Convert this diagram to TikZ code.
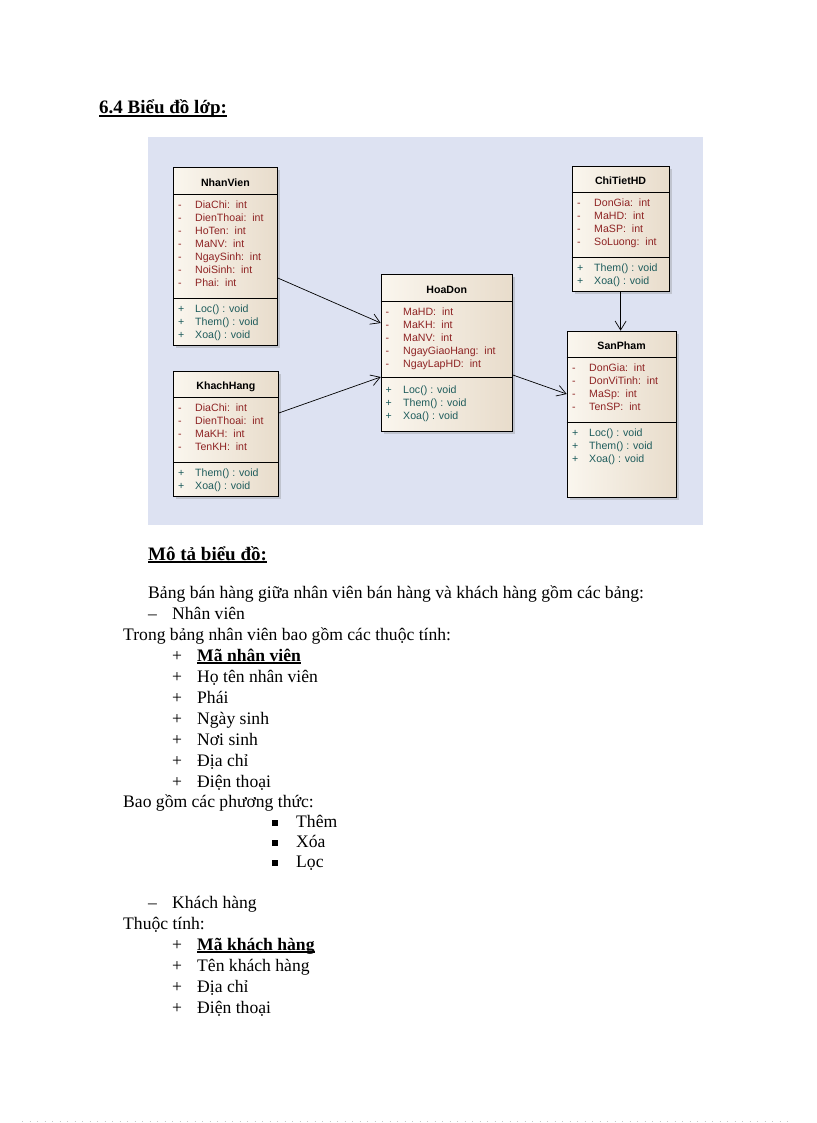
\documentclass[tikz,border=0pt]{standalone}
\usepackage{fontspec}
\setmainfont{Liberation Serif}
\setsansfont{Liberation Sans}
\usetikzlibrary{arrows.meta, shadows, calc}

\definecolor{diagbg}{HTML}{DDE2F2}
\definecolor{clsleft}{HTML}{FAF6EE}
\definecolor{clsright}{HTML}{E8DCCB}
\definecolor{attrred}{HTML}{8E2323}
\definecolor{methteal}{HTML}{1E5C5C}

\newcommand{\thickul}[1]{\setbox0\hbox{#1}\leavevmode\rlap{\rule[-2.6pt]{\wd0}{1.5pt}}\box0}

\begin{document}
\begin{tikzpicture}[x=1pt, y=-1pt,
    cls/.style={draw, line width=0.8pt, left color=clsleft, right color=clsright, anchor=north west, inner sep=0pt,
        drop shadow={shadow xshift=2.5pt, shadow yshift=-2.5pt, opacity=0.3}},
    ctitle/.style={font=\fontsize{10.6}{13}\sffamily\bfseries, anchor=base, inner sep=0pt},
    attr/.style={font=\fontsize{10.6}{13}\sffamily, text=attrred, anchor=base west, inner sep=0pt},
    meth/.style={attr, text=methteal},
    sep/.style={line width=0.8pt},
    assoc/.style={line width=0.7pt, -{Straight Barb[length=9pt, width=11pt]}},
    body/.style={font=\fontsize{17.6}{21}\selectfont, anchor=base west, inner sep=0pt},
    heading/.style={body, font=\fontsize{19}{22}\selectfont\bfseries}]
    \useasboundingbox (0,0) rectangle (816,1123);
    \fill[white] (0,0) rectangle (816,1123);

    % class diagram
    \fill[diagbg] (148,137) rectangle (703,525);

    \node[cls, minimum width=104pt, minimum height=178pt] (nv) at (173,167) {};
    \node[ctitle] (nv-title) at (nv.north |- 0,186.5) {NhanVien};
    \draw[sep] (nv.west |- 0,194.7) -- (nv.east |- 0,194.7);
    \draw[sep] (nv.west |- 0,298.7) -- (nv.east |- 0,298.7);
    \foreach \a [count=\i] in {DiaChi, DienThoai, HoTen, MaNV, NgaySinh, NoiSinh, Phai} {
        \node[attr] (nv-s\i) at (178, 195.5+13*\i) {-};
        \node[attr] (nv-a\i) at (195, 195.5+13*\i) {\a:\ \ int};
    }
    \foreach \m [count=\i] in {Loc, Them, Xoa} {
        \node[meth] (nv-p\i) at (178, 299.5+13*\i) {+};
        \node[meth] (nv-m\i) at (195, 299.5+13*\i) {\m() : void};
    }

    \node[cls, minimum width=105pt, minimum height=125.3pt] (kh) at (173,370.7) {};
    \node[ctitle] (kh-title) at (kh.north |- 0,389.5) {KhachHang};
    \draw[sep] (kh.west |- 0,397) -- (kh.east |- 0,397);
    \draw[sep] (kh.west |- 0,462) -- (kh.east |- 0,462);
    \foreach \a [count=\i] in {DiaChi, DienThoai, MaKH, TenKH} {
        \node[attr] (kh-s\i) at (178, 398.8+13*\i) {-};
        \node[attr] (kh-a\i) at (195, 398.8+13*\i) {\a:\ \ int};
    }
    \foreach \m [count=\i] in {Them, Xoa} {
        \node[meth] (kh-p\i) at (178, 463.8+13*\i) {+};
        \node[meth] (kh-m\i) at (195, 463.8+13*\i) {\m() : void};
    }

    \node[cls, minimum width=131.3pt, minimum height=156.4pt] (hd) at (380.7,274.3) {};
    \node[ctitle] (hd-title) at (hd.north |- 0,293) {HoaDon};
    \draw[sep] (hd.west |- 0,301.7) -- (hd.east |- 0,301.7);
    \draw[sep] (hd.west |- 0,377.7) -- (hd.east |- 0,377.7);
    \foreach \a [count=\i] in {MaHD, MaKH, MaNV, NgayGiaoHang, NgayLapHD} {
        \node[attr] (hd-s\i) at (385.5, 302.5+13*\i) {-};
        \node[attr] (hd-a\i) at (403, 302.5+13*\i) {\a:\ \ int};
    }
    \foreach \m [count=\i] in {Loc, Them, Xoa} {
        \node[meth] (hd-p\i) at (385.5, 380.5+13*\i) {+};
        \node[meth] (hd-m\i) at (403, 380.5+13*\i) {\m() : void};
    }

    \node[cls, minimum width=97pt, minimum height=125.6pt] (ct) at (571.7,165.7) {};
    \node[ctitle] (ct-title) at (ct.north |- 0,184.5) {ChiTietHD};
    \draw[sep] (ct.west |- 0,192.3) -- (ct.east |- 0,192.3);
    \draw[sep] (ct.west |- 0,257.7) -- (ct.east |- 0,257.7);
    \foreach \a [count=\i] in {DonGia, MaHD, MaSP, SoLuong} {
        \node[attr] (ct-s\i) at (577, 193.5+13*\i) {-};
        \node[attr] (ct-a\i) at (594, 193.5+13*\i) {\a:\ \ int};
    }
    \foreach \m [count=\i] in {Them, Xoa} {
        \node[meth] (ct-p\i) at (577, 258.5+13*\i) {+};
        \node[meth] (ct-m\i) at (594, 258.5+13*\i) {\m() : void};
    }

    \node[cls, minimum width=109pt, minimum height=166.6pt] (sp) at (566.7,330.7) {};
    \node[ctitle] (sp-title) at (sp.north |- 0,349.5) {SanPham};
    \draw[sep] (sp.west |- 0,357.3) -- (sp.east |- 0,357.3);
    \draw[sep] (sp.west |- 0,422.3) -- (sp.east |- 0,422.3);
    \foreach \a [count=\i] in {DonGia, DonViTinh, MaSp, TenSP} {
        \node[attr] (sp-s\i) at (572, 358.5+13*\i) {-};
        \node[attr] (sp-a\i) at (589, 358.5+13*\i) {\a:\ \ int};
    }
    \foreach \m [count=\i] in {Loc, Them, Xoa} {
        \node[meth] (sp-p\i) at (572, 423.5+13*\i) {+};
        \node[meth] (sp-m\i) at (589, 423.5+13*\i) {\m() : void};
    }

    \draw[assoc] (nv.east |- 0,278) -- (hd.west |- 0,323);
    \draw[assoc] (kh.east |- 0,413) -- (hd.west |- 0,377);
    \draw[assoc] (hd.east |- 0,375) -- (sp.west |- 0,394);
    \draw[assoc] (ct.south) -- (ct.south |- sp.north);

    % description text
    \node[heading] (sec-title) at (99,114) {\thickul{6.4 Biểu đồ lớp:}};
    \node[heading] (desc-title) at (148,560) {\thickul{Mô tả biểu đồ:}};
    \node[body] (intro) at (148,598.5) {Bảng bán hàng giữa nhân viên bán hàng và khách hàng gồm các bảng:};

    \node[body] (nv-dash) at (148,619) {–};
    \node[body] (nv-item) at (172,619) {Nhân viên};
    \node[body] (nv-props) at (123,640) {Trong bảng nhân viên bao gồm các thuộc tính:};
    \foreach \t [count=\i] in {{\thickul{\bfseries Mã nhân viên}}, Họ tên nhân viên, Phái, Ngày sinh, Nơi sinh, Địa chỉ, Điện thoại} {
        \node[body] (nv-plus\i) at (172, 640+21*\i) {+};
        \node[body] (nv-prop\i) at (197, 640+21*\i) {\t};
    }
    \node[body] (nv-funcs) at (123,807.5) {Bao gồm các phương thức:};
    \foreach \t [count=\i] in {Thêm, Xóa, Lọc} {
        \node[body] (nv-bul\i) at (272, 807+20*\i) {\rule[1.3pt]{5.5pt}{5.5pt}};
        \node[body] (nv-func\i) at (296, 807+20*\i) {\t};
    }

    \node[body] (kh-dash) at (148,908) {–};
    \node[body] (kh-item) at (172,908) {Khách hàng};
    \node[body] (kh-props) at (123,929) {Thuộc tính:};
    \foreach \t [count=\i] in {{\thickul{\bfseries Mã khách hàng}}, Tên khách hàng, Địa chỉ, Điện thoại} {
        \node[body] (kh-plus\i) at (172, 929+21*\i) {+};
        \node[body] (kh-prop\i) at (197, 929+21*\i) {\t};
    }

    \draw[black!22, line width=0.8pt, dash pattern=on 1pt off 6.5pt] (22,1121.5) -- (790,1121.5);
\end{tikzpicture}
\end{document}
